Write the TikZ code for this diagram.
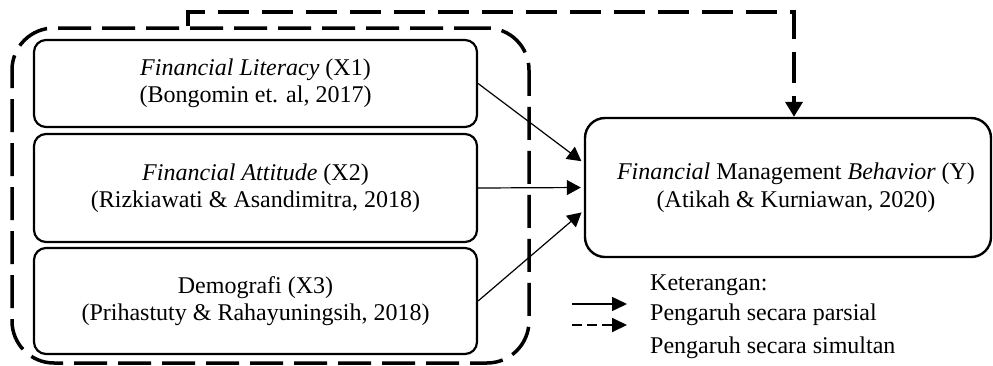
\documentclass[tikz,border=0pt]{standalone}
\usepackage{fontspec}
\setmainfont{Liberation Serif}
\usetikzlibrary{arrows.meta}
\begin{document}
\begin{tikzpicture}[x=1pt,y=-1pt,
  font=\fontsize{24}{27.5}\selectfont,
  xbox/.style={draw, line width=2.2pt, rounded corners=12pt, minimum width=443pt, align=center, inner sep=0pt},
  ybox/.style={draw, line width=2.4pt, rounded corners=20pt, minimum width=406pt, minimum height=139pt, align=center, inner sep=0pt},
  group/.style={draw, line width=3.5pt, dash pattern=on 33pt off 11pt, rounded corners=42pt, minimum width=517pt, minimum height=335pt},
  partial/.style={line width=1.2pt, -{Triangle[length=14pt,width=15pt]}, shorten >=3pt},
  simul/.style={line width=4pt, dash pattern=on 31pt off 13pt, -{Triangle[length=15pt,width=17pt]}},
  legtxt/.style={anchor=base west, inner sep=0pt}
]
\useasboundingbox (0,0) rectangle (993,365);
% group container
\node[group] (C) at (270.5,195.5) {};
% independent variables
\node[xbox, minimum height=87pt] (X1) at (255.5,83.5) {\textit{Financial Literacy} (X1)\\(Bongomin et. al, 2017)};
\node[xbox, minimum height=108pt] (X2) at (255.5,188) {\textit{Financial Attitude} (X2)\\(Rizkiawati \& Asandimitra, 2018)};
\node[xbox, minimum height=106pt] (X3) at (255.5,301) {Demografi (X3)\\(Prihastuty \& Rahayuningsih, 2018)};
% dependent variable
\node[ybox] (Y) at (788,187.5) {\hspace*{16pt}\textit{Financial} Management \textit{Behavior} (Y)\\\hspace*{16pt}(Atikah \& Kurniawan, 2020)};
% partial arrows
\draw[partial] (X1.east) -- ([yshift=24.5pt]Y.west);
\draw[partial] (X2.east) -- (Y.west);
\draw[partial] (X3.east) -- ([yshift=-23pt]Y.west);
% simultaneous arrow
\coordinate (top) at (794,12);
\draw[simul] ([xshift=-82.5pt]C.north) |- (top) -- (top |- Y.north);
% legend
\node[legtxt] (k) at (650,290) {Keterangan:};
\node[legtxt] (p) at (650,320.7) {Pengaruh secara parsial};
\node[legtxt] (s) at (650,353) {Pengaruh secara simultan};
\coordinate (l1a) at (572,304);
\coordinate (l1b) at (627,304);
\coordinate (l2a) at (572,325);
\coordinate (l2b) at (627,325);
\draw[line width=1.5pt, -{Triangle[length=15pt,width=14pt]}] (l1a) -- (l1b);
\draw[line width=1.8pt, dash pattern=on 10pt off 5pt, -{Triangle[length=15pt,width=14pt]}] (l2a) -- (l2b);
\end{tikzpicture}
\end{document}
